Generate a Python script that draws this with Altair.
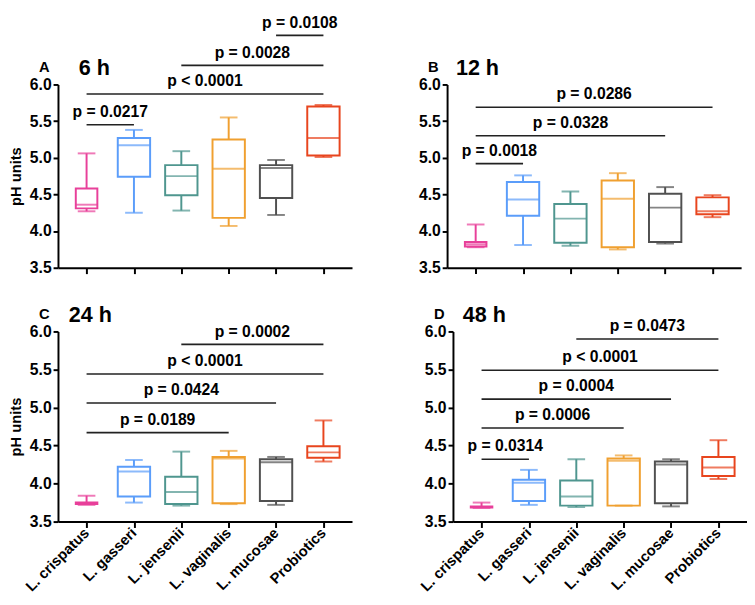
import altair as alt
import pandas as pd

categories = ["L. crispatus", "L. gasseri", "L. jensenii", "L. vaginalis", "L. mucosae", "Probiotics"]
colors = ["#e8409a", "#5b9dfa", "#4f968f", "#f0a030", "#505050", "#e8451e"]
letters = ["A", "B", "C", "D"]
panel_titles = ["6 h", "12 h", "24 h", "48 h"]
y_ticks = [3.5, 4.0, 4.5, 5.0, 5.5, 6.0]

# Panel A: 6 h
a_min = [4.27, 4.25, 4.28, 4.07, 4.22, 5.01]
a_q1 = [4.31, 4.74, 4.49, 4.18, 4.45, 5.03]
a_med = [4.36, 5.17, 4.75, 4.85, 4.86, 5.27]
a_q3 = [4.58, 5.27, 4.90, 5.25, 4.90, 5.70]
a_max = [5.06, 5.38, 5.09, 5.55, 4.97, 5.72]
a_sig_start = [0, 0, 2, 4]
a_sig_end = [1, 5, 5, 5]
a_sig_y = [5.45, 5.87, 6.26, 6.67]
a_sig_label = ["p = 0.0217", "p < 0.0001", "p = 0.0028", "p = 0.0108"]

# Panel B: 12 h
b_min = [3.78, 3.81, 3.80, 3.75, 3.83, 4.19]
b_q1 = [3.79, 4.21, 3.84, 3.78, 3.85, 4.23]
b_med = [3.82, 4.43, 4.17, 4.44, 4.32, 4.27]
b_q3 = [3.85, 4.67, 4.37, 4.69, 4.51, 4.46]
b_max = [4.09, 4.76, 4.54, 4.79, 4.60, 4.49]
b_sig_start = [0, 0, 0]
b_sig_end = [1, 4, 5]
b_sig_y = [4.92, 5.30, 5.69]
b_sig_label = ["p = 0.0018", "p = 0.0328", "p = 0.0286"]

# Panel C: 24 h
c_min = [3.72, 3.75, 3.71, 3.73, 3.72, 4.29]
c_q1 = [3.73, 3.83, 3.73, 3.74, 3.77, 4.34]
c_med = [3.74, 4.16, 3.89, 4.33, 4.28, 4.41]
c_q3 = [3.75, 4.22, 4.09, 4.35, 4.32, 4.49]
c_max = [3.84, 4.31, 4.42, 4.43, 4.35, 4.83]
c_sig_start = [0, 0, 0, 2]
c_sig_end = [3, 4, 5, 5]
c_sig_y = [4.67, 5.06, 5.44, 5.83]
c_sig_label = ["p = 0.0189", "p = 0.0424", "p < 0.0001", "p = 0.0002"]

# Panel D: 48 h
d_min = [3.68, 3.72, 3.69, 3.71, 3.70, 4.06]
d_q1 = [3.685, 3.77, 3.71, 3.71, 3.74, 4.10]
d_med = [3.69, 4.01, 3.83, 4.30, 4.25, 4.21]
d_q3 = [3.70, 4.05, 4.04, 4.33, 4.29, 4.35]
d_max = [3.75, 4.18, 4.32, 4.37, 4.32, 4.57]
d_sig_start = [0, 0, 0, 0, 2]
d_sig_end = [1, 3, 4, 5, 5]
d_sig_y = [4.32, 4.73, 5.11, 5.49, 5.90]
d_sig_label = ["p = 0.0314", "p = 0.0006", "p = 0.0004", "p < 0.0001", "p = 0.0473"]

FONT = "Liberation Sans"
FS = 16
narrow = "datum.cat == 'L. crispatus'"
XSCALE = alt.Scale(domain=[-0.5, 5.5], nice=False, zero=False)
YSCALE = alt.Scale(domain=[3.5, 6.0], nice=False, zero=False)


def panel(mins, q1s, meds, q3s, maxs, s_start, s_end, s_y, s_label,
          letter, title, show_x, show_ytitle, height, title_x):
    box = pd.DataFrame({"idx": list(range(6)), "cat": categories,
                        "lo": mins, "q1": q1s, "med": meds, "q3": q3s, "hi": maxs})
    sig = pd.DataFrame({"start": s_start, "end": s_end, "y": s_y, "label": s_label})

    xaxis = alt.Axis(values=list(range(6)), title=None, labels=False, tickSize=6)
    yaxis = alt.Axis(values=y_ticks, format=".1f",
                     title="pH units" if show_ytitle else "", titlePadding=6,
                     tickSize=5, labelPadding=2)
    x = alt.X("idx:Q", scale=XSCALE, axis=xaxis)
    color = alt.Color("cat:N", scale=alt.Scale(domain=categories, range=colors), legend=None)
    stroke = alt.Stroke("cat:N", scale=alt.Scale(domain=categories, range=colors), legend=None)

    base = alt.Chart(box)
    whisk_lo = base.mark_rule(strokeWidth=2).encode(
        x=x, y=alt.Y("lo:Q", scale=YSCALE, axis=yaxis), y2="q1:Q", color=color)
    whisk_hi = base.mark_rule(strokeWidth=2).encode(
        x=x, y=alt.Y("q3:Q", scale=YSCALE, axis=yaxis), y2="hi:Q", color=color)
    boxes = base.mark_bar(fill="white", strokeWidth=2).encode(
        x=x, y=alt.Y("q1:Q", scale=YSCALE, axis=yaxis), y2="q3:Q", stroke=stroke,
        size=alt.condition(narrow, alt.value(22), alt.value(33)))
    median = base.mark_tick(orient="horizontal", thickness=2).encode(
        x=x, y=alt.Y("med:Q", scale=YSCALE, axis=yaxis), color=color,
        size=alt.condition(narrow, alt.value(22), alt.value(33)))
    cap_lo = base.mark_tick(orient="horizontal", thickness=2, size=18).encode(
        x=x, y=alt.Y("lo:Q", scale=YSCALE, axis=yaxis), color=color)
    cap_hi = base.mark_tick(orient="horizontal", thickness=2, size=18).encode(
        x=x, y=alt.Y("hi:Q", scale=YSCALE, axis=yaxis), color=color)

    sbase = alt.Chart(sig).transform_calculate(mid="(datum.start + datum.end) / 2")
    sig_lines = sbase.mark_rule(strokeWidth=1.6, color="#222222").encode(
        x=alt.X("start:Q", scale=XSCALE, axis=xaxis),
        x2="end:Q", y=alt.Y("y:Q", scale=YSCALE, axis=yaxis))
    sig_text = sbase.mark_text(fontSize=FS, fontWeight="bold", font=FONT, color="black",
                               baseline="alphabetic", dy=-8).encode(
        x=alt.X("mid:Q", scale=XSCALE, axis=xaxis),
        y=alt.Y("y:Q", scale=YSCALE, axis=yaxis), text="label:N")

    head = pd.DataFrame({"letter": [letter], "title": [title]})
    let_mark = alt.Chart(head).mark_text(fontSize=15, fontWeight="bold", font=FONT, color="black",
                                         align="center", baseline="middle").encode(
        x=alt.value(-14), y=alt.value(-18), text="letter:N")
    tit_mark = alt.Chart(head).mark_text(fontSize=22, fontWeight="bold", font=FONT, color="black",
                                         align="center", baseline="middle").encode(
        x=alt.value(title_x), y=alt.value(-17), text="title:N")

    layers = [whisk_lo, whisk_hi, boxes, median, cap_lo, cap_hi,
              sig_lines, sig_text, let_mark, tit_mark]
    if show_x:
        cat_text = base.mark_text(fontSize=15, fontWeight="bold", font=FONT, color="black",
                                  angle=315, align="right", baseline="middle").encode(
            x=x, y=alt.value(height + 9), text="cat:N")
        layers.append(cat_text)
    return alt.layer(*layers).properties(width=300, height=height)


pA = panel(a_min, a_q1, a_med, a_q3, a_max, a_sig_start, a_sig_end, a_sig_y, a_sig_label,
           letters[0], panel_titles[0], False, True, 187, 37)
pB = panel(b_min, b_q1, b_med, b_q3, b_max, b_sig_start, b_sig_end, b_sig_y, b_sig_label,
           letters[1], panel_titles[1], False, False, 187, 31)
pC = panel(c_min, c_q1, c_med, c_q3, c_max, c_sig_start, c_sig_end, c_sig_y, c_sig_label,
           letters[2], panel_titles[2], True, True, 194, 33)
pD = panel(d_min, d_q1, d_med, d_q3, d_max, d_sig_start, d_sig_end, d_sig_y, d_sig_label,
           letters[3], panel_titles[3], True, False, 194, 32)

row1 = alt.hconcat(pA, pB, spacing=67)
row2 = alt.hconcat(pC, pD, spacing=67)
chart = alt.vconcat(row1, row2, spacing=29, padding=0).configure(padding=0).configure_view(
    stroke=None).configure_axis(
    grid=False, labelFontSize=FS, labelFontWeight="bold", labelFont=FONT, labelColor="black",
    titleFontSize=15, titleFontWeight="bold", titleFont=FONT, titleColor="black",
    tickWidth=2, tickColor="black", domainWidth=2, domainColor="black")

chart.save("out.html", embed_options={"renderer": "svg", "actions": False})
